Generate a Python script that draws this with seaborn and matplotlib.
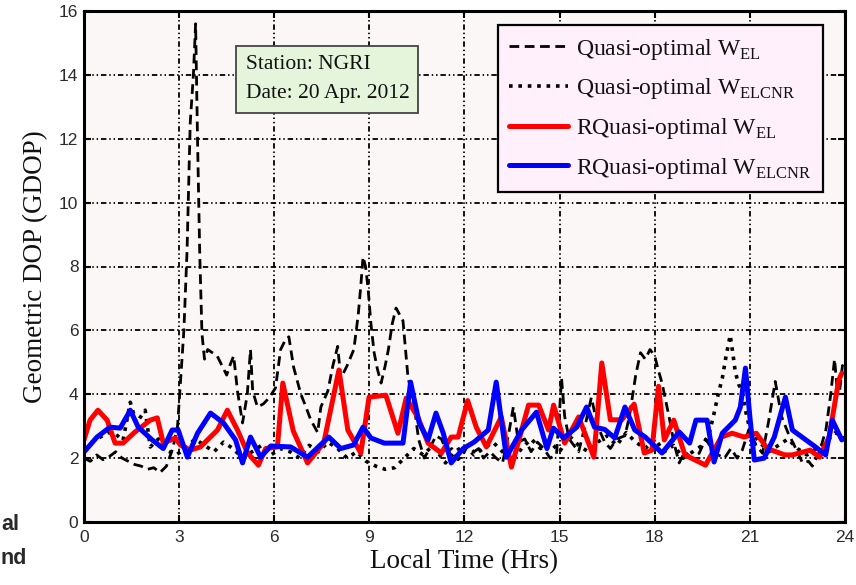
import numpy as np
import pandas as pd
import matplotlib
matplotlib.use("Agg")
import matplotlib.pyplot as plt
import matplotlib.patches as mpatches
import seaborn as sns

# ---------------- data ----------------
quasi_el_t = [0.0, 0.2, 0.4, 0.6, 0.8, 1.0, 1.2, 1.4, 1.6, 1.8, 2.0, 2.2, 2.4, 2.6, 2.8, 2.95,
              3.05, 3.15, 3.25, 3.35, 3.45, 3.52, 3.58, 3.65, 3.72, 3.8, 3.9, 4.05, 4.2, 4.35,
              4.5, 4.6, 4.72, 4.84, 5.0, 5.15, 5.25, 5.32, 5.47, 5.66, 5.85, 6.04, 6.2, 6.35,
              6.46, 6.61, 6.84, 7.0, 7.15, 7.37, 7.47, 7.69, 7.85, 8.0, 8.1, 8.3, 8.51, 8.65,
              8.73, 8.8, 8.88, 8.96, 9.05, 9.15, 9.25, 9.37, 9.5, 9.6, 9.72, 9.84, 9.95, 10.06,
              10.22, 10.38, 10.55, 10.73, 10.9, 11.1, 11.27, 11.45, 11.6, 11.8, 11.95, 12.1,
              12.3, 12.45, 12.6, 12.8, 13.0, 13.2, 13.4, 13.54, 13.7, 13.9, 14.1, 14.3, 14.5,
              14.7, 14.9, 15.0, 15.06, 15.16, 15.3, 15.45, 15.6, 15.8, 16.0, 16.2, 16.42, 16.6,
              16.8, 17.06, 17.2, 17.4, 17.55, 17.7, 17.85, 18.0, 18.1, 18.23, 18.45, 18.6,
              18.77, 18.95, 19.15, 19.4, 19.6, 19.8, 20.0, 20.2, 20.4, 20.6, 20.76, 20.97,
              21.2, 21.4, 21.6, 21.8, 22.0, 22.2, 22.4, 22.66, 22.85, 22.97, 23.2, 23.4,
              23.55, 23.67, 23.75, 23.83, 23.92, 24.0]
quasi_el_v = [2.0, 1.9, 2.1, 1.95, 2.05, 2.2, 2.0, 1.9, 1.8, 1.75, 1.65, 1.7, 1.55, 1.75, 2.3, 3.0,
              4.5, 6.0, 8.5, 12.5, 14.0, 15.6, 12.0, 8.4, 5.9, 5.1, 5.4, 5.3, 5.2, 4.9,
              4.6, 4.9, 5.2, 4.1, 3.1, 4.0, 5.4, 4.1, 3.6, 3.7, 3.9, 4.2, 5.4, 5.7,
              5.8, 4.85, 4.0, 3.6, 3.2, 2.8, 3.6, 4.1, 4.9, 5.5, 4.5, 4.9, 5.4, 6.5,
              7.4, 8.3, 8.0, 7.3, 6.2, 5.3, 4.8, 4.35, 4.9, 5.4, 6.2, 6.7, 6.5, 6.3,
              4.5, 3.9, 2.6, 2.0, 2.3, 2.7, 2.6, 2.2, 2.3, 1.95, 2.1, 2.4,
              2.2, 2.3, 2.0, 2.2, 2.0, 1.85, 2.8, 3.6, 2.5, 2.6, 2.2, 2.5, 2.3,
              2.0, 2.1, 3.5, 4.5, 3.3, 2.6, 2.4, 2.2, 3.0, 3.9, 3.0, 2.5, 2.3,
              2.6, 2.7, 3.3, 4.6, 5.3, 5.1, 5.4, 5.2, 4.8, 4.35, 3.3, 2.5,
              1.85, 2.2, 2.0, 2.15, 2.6, 2.3, 2.1, 2.0, 2.3, 2.0, 2.25, 2.9,
              2.4, 2.15, 3.2, 4.4, 3.3, 2.8, 2.4, 1.85, 1.9, 1.75, 2.2, 2.9,
              4.0, 5.1, 4.2, 4.1, 4.9, 4.6]

quasi_elcnr_t = [0.0, 0.25, 0.5, 0.75, 1.0, 1.23, 1.46, 1.65, 1.93, 2.09, 2.35, 2.6, 2.9, 3.2,
                 3.5, 3.8, 4.1, 4.4, 4.7, 5.0, 5.3, 5.6, 5.9, 6.2, 6.5, 6.8, 7.1, 7.4, 7.7,
                 8.0, 8.3, 8.6, 8.9, 9.2, 9.5, 9.8, 10.1, 10.4, 10.7, 11.0, 11.4, 11.7, 12.0,
                 12.3, 12.6, 12.9, 13.2, 13.5, 13.8, 14.1, 14.4, 14.7, 15.0, 15.3, 15.6, 15.9,
                 16.2, 16.5, 16.8, 17.1, 17.4, 17.7, 18.0, 18.3, 18.6, 18.9, 19.2, 19.5, 19.7,
                 19.87, 20.0, 20.13, 20.25, 20.38, 20.46, 20.54, 20.65, 20.76, 20.86, 21.0,
                 21.3, 21.6, 21.9, 22.2, 22.5, 22.8, 23.1, 23.4, 23.7, 24.0]
quasi_elcnr_v = [2.3, 2.5, 2.65, 2.8, 2.75, 2.55, 3.75, 3.1, 3.5, 2.35, 2.6, 2.25, 2.1, 2.3,
                 2.6, 2.4, 2.2, 2.5, 2.3, 2.0, 2.2, 2.4, 2.1, 2.3, 2.2, 2.0, 2.4, 2.2, 2.5,
                 2.3, 2.0, 2.2, 1.9, 1.75, 1.65, 1.7, 2.0, 2.3, 2.1, 2.4, 1.85, 2.2, 2.4,
                 2.1, 2.3, 2.5, 2.2, 1.9, 2.3, 2.6, 2.3, 2.5, 2.2, 2.7, 2.4, 2.2,
                 2.5, 2.7, 2.4, 2.8, 2.5, 2.3, 2.6, 2.2, 2.4, 2.0, 2.2, 2.4, 2.7,
                 3.4, 4.0, 4.5, 5.2, 5.85, 5.3, 4.7, 4.3, 4.1, 3.5, 2.9,
                 2.5, 2.2, 2.4, 2.6, 2.3, 2.1, 2.3, 2.5, 2.8, 2.6]

rquasi_el_t = [0.0, 0.19, 0.44, 0.73, 0.98, 1.23, 1.61, 2.09, 2.31, 2.5, 2.88, 3.04, 3.35, 3.67,
               4.21, 4.52, 4.84, 5.16, 5.5, 5.73, 6.1, 6.27, 6.6, 7.05, 7.56, 8.04, 8.32, 8.73,
               8.99, 9.52, 9.9, 10.16, 10.54, 10.85, 11.27, 11.58, 11.8, 12.1, 12.37, 12.69,
               13.16, 13.48, 14.02, 14.34, 14.65, 14.81, 15.16, 15.6, 16.08, 16.33, 16.6,
               16.96, 17.35, 17.67, 17.91, 18.12, 18.3, 18.6, 18.95, 19.6, 20.1, 20.44, 20.82,
               21.2, 21.55, 22.1, 22.34, 22.9, 23.2, 23.5, 23.8, 23.9]
rquasi_el_v = [2.57, 3.19, 3.5, 3.19, 2.47, 2.47, 2.82, 3.19, 3.26, 2.47, 2.63, 2.41, 2.25, 2.35,
               2.88, 3.5, 2.88, 2.16, 1.78, 2.3, 2.35, 4.35, 2.85, 1.85, 2.47, 4.76, 2.88, 2.16,
               3.91, 3.97, 2.78, 3.88, 3.26, 2.47, 2.16, 2.66, 2.66, 3.8, 2.97, 2.35,
               3.29, 1.72, 3.66, 3.66, 2.88, 3.66, 2.47, 3.29, 2.03, 4.98, 3.2,
               3.2, 3.69, 2.16, 2.25, 4.25, 2.57, 3.19, 2.1, 1.78, 2.66, 2.78, 2.66,
               2.78, 2.3, 2.1, 2.1, 2.25, 2.03, 2.66, 4.44, 4.66]

rquasi_elcnr_t = [0.0, 0.41, 0.82, 1.14, 1.46, 1.71, 2.15, 2.5, 2.78, 2.97, 3.26, 3.58, 3.99,
                  4.4, 4.78, 5.0, 5.25, 5.57, 5.89, 6.52, 7.05, 7.72, 8.1, 8.5, 8.8, 9.05,
                  9.47, 10.06, 10.3, 10.57, 10.85, 11.1, 11.33, 11.58, 11.96, 12.3, 12.75,
                  13.0, 13.32, 13.8, 14.27, 14.6, 14.8, 15.13, 15.54, 15.85, 16.1, 16.42,
                  16.74, 17.06, 17.37, 17.7, 18.23, 18.77, 19.1, 19.3, 19.65, 19.87, 20.13,
                  20.54, 20.7, 20.86, 21.0, 21.14, 21.45, 21.77, 22.12, 22.34, 23.07, 23.39,
                  23.6, 23.9]
rquasi_elcnr_v = [2.19, 2.66, 2.97, 2.94, 3.5, 2.97, 2.57, 2.3, 2.88, 2.88, 2.03, 2.78, 3.41,
                  3.1, 2.57, 1.85, 2.66, 2.03, 2.38, 2.35, 2.03, 2.66, 2.3, 2.41, 2.97, 2.63,
                  2.47, 2.47, 4.38, 3.1, 2.57, 3.41, 2.78, 1.85, 2.3, 2.5, 2.88,
                  4.38, 2.03, 2.88, 3.44, 2.3, 2.94, 2.63, 2.97, 3.6, 2.97, 2.9,
                  2.63, 3.6, 2.88, 2.66, 2.16, 2.82, 2.47, 3.19, 3.19, 1.88, 2.78,
                  3.19, 3.6, 4.82, 3.29, 1.94, 2.0, 2.66, 3.91, 2.88, 2.35, 2.1,
                  3.19, 2.57]

x_ticks = [0, 3, 6, 9, 12, 15, 18, 21, 24]
y_ticks = [0, 2, 4, 6, 8, 10, 12, 14, 16]

labels = [r"Quasi-optimal W$_{\mathregular{EL}}$",
          r"Quasi-optimal W$_{\mathregular{ELCNR}}$",
          r"RQuasi-optimal W$_{\mathregular{EL}}$",
          r"RQuasi-optimal W$_{\mathregular{ELCNR}}$"]

# ---------------- style ----------------
sns.set_theme(style="white")
plt.rcParams["font.family"] = ["Liberation Serif", "DejaVu Serif"]
plt.rcParams["mathtext.fontset"] = "custom"
plt.rcParams["mathtext.rm"] = "Liberation Serif"

fig = plt.figure(figsize=(8.56, 5.85), dpi=100, facecolor="white")
ax = fig.add_axes([84 / 856, 1 - 522 / 585, 761 / 856, 511 / 585])
ax.set_facecolor("#faf7f6")

grid_ls = (0, (3.0, 1.6, 0.8, 1.6, 0.8, 1.6))
ax.set_axisbelow(True)
ax.grid(True, color="black", linestyle=grid_ls, linewidth=1.3)

df1 = pd.DataFrame({"t": quasi_el_t, "v": quasi_el_v})
df2 = pd.DataFrame({"t": quasi_elcnr_t, "v": quasi_elcnr_v})
df3 = pd.DataFrame({"t": rquasi_el_t, "v": rquasi_el_v})
df4 = pd.DataFrame({"t": rquasi_elcnr_t, "v": rquasi_elcnr_v})

sns.lineplot(data=df1, x="t", y="v", ax=ax, color="black", linewidth=2.0,
             linestyle=(0, (3.5, 2.0)), sort=False, estimator=None, label=labels[0])
sns.lineplot(data=df2, x="t", y="v", ax=ax, color="black", linewidth=2.6,
             linestyle=(0, (1.0, 1.6)), sort=False, estimator=None, label=labels[1])
sns.lineplot(data=df3, x="t", y="v", ax=ax, color="#ff0000", linewidth=3.6,
             sort=False, estimator=None, label=labels[2])
sns.lineplot(data=df4, x="t", y="v", ax=ax, color="#0000ff", linewidth=3.6,
             sort=False, estimator=None, label=labels[3])

ax.set_xlim(0, 24)
ax.set_ylim(0, 16)
ax.set_xticks(x_ticks)
ax.set_yticks(y_ticks)
ax.set_xticklabels([str(v) for v in x_ticks], family="Liberation Sans", fontsize=12.5)
ax.set_yticklabels([str(v) for v in y_ticks], family="Liberation Sans", fontsize=12.5)
ax.tick_params(axis="x", pad=6)
ax.tick_params(axis="y", pad=4)
ax.tick_params(direction="in", length=5, width=1.5, top=True, right=True,
               bottom=True, left=True, colors="black", labelcolor="#2a2a2a")
for s in ax.spines.values():
    s.set_visible(True)
    s.set_color("black")
    s.set_linewidth(2.2)

ax.set_xlabel("Local Time (Hrs)", fontsize=19.5, family="Liberation Serif", color="#111111", labelpad=3)
ax.set_ylabel("Geometric DOP (GDOP)", fontsize=19.5, family="Liberation Serif", color="#111111", labelpad=8)

leg = ax.legend(loc="upper right", bbox_to_anchor=(0.971, 0.973), borderaxespad=0,
                fontsize=17, handlelength=2.5, labelspacing=0.62, handletextpad=0.3,
                borderpad=0.5, fancybox=False, framealpha=1, facecolor="#fff0fb",
                edgecolor="black")
leg.get_frame().set_linewidth(1.6)
for t in leg.get_texts():
    t.set_color("#111111")

# annotation box
ax.add_patch(mpatches.Rectangle((0.2, 0.80), 0.239, 0.132, transform=ax.transAxes,
                                facecolor="#e5f5dc", edgecolor="#444444", linewidth=1.3, zorder=6))
ax.text(0.213, 0.895, "Station: NGRI", transform=ax.transAxes, fontsize=15.5,
        family="Liberation Serif", va="center", ha="left", color="#111111", zorder=7)
ax.text(0.213, 0.838, "Date: 20 Apr. 2012", transform=ax.transAxes, fontsize=15.5,
        family="Liberation Serif", va="center", ha="left", color="#111111", zorder=7)

# cropped surrounding document text
fig.text(1 / 856, 1 - 524 / 585, "al", fontsize=15.5, fontweight="bold",
         family="Liberation Sans", ha="left", va="center", color="#2a2a2a")
fig.text(1 / 856, 1 - 559 / 585, "nd", fontsize=15.5, fontweight="bold",
         family="Liberation Sans", ha="left", va="center", color="#2a2a2a")

fig.savefig("out.png", dpi=100, facecolor="white")
